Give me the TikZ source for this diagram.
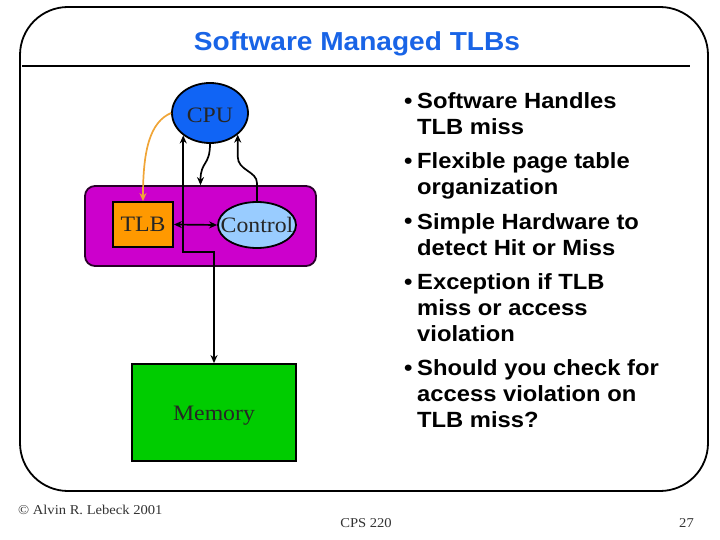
\documentclass[tikz,border=0pt]{standalone}
\usepackage{fontspec}
\setmainfont{Liberation Serif}[FakeStretch=1.08]
\newfontfamily\slidesans{Liberation Sans}[FakeStretch=1.08]
\usetikzlibrary{shapes.geometric,arrows.meta,calc}
\definecolor{titleblue}{RGB}{25,100,230}
\definecolor{cpublue}{RGB}{16,100,245}
\definecolor{procpurple}{RGB}{204,0,204}
\definecolor{tlborange}{RGB}{255,153,0}
\definecolor{ctrlblue}{RGB}{153,204,255}
\definecolor{memgreen}{RGB}{0,204,0}
\definecolor{arroworange}{RGB}{240,165,55}
\tikzset{
  box/.style={draw=black, line width=1.8pt, inner sep=0pt},
  dtext/.style={font=\fontsize{22}{26}\selectfont, text=black!85},
  conn/.style={draw=black, line width=1.7pt, -{Stealth[length=8pt,width=7pt]}},
  dconn/.style={draw=black, line width=1.7pt, {Stealth[length=8pt,width=7pt]}-{Stealth[length=8pt,width=7pt]}},
  bullettext/.style={anchor=base west, align=left, inner sep=0pt, font=\slidesans\bfseries\fontsize{22}{26}\selectfont},
  bulletdot/.style={anchor=base west, inner sep=0pt, font=\slidesans\bfseries\fontsize{22}{26}\selectfont},
  foot/.style={inner sep=0pt, font=\fontsize{13.5}{16}\selectfont, text=black!80}
}
\begin{document}
\begin{tikzpicture}[x=1pt,y=-1pt]
\useasboundingbox (0,0) rectangle (720,540);
% frame
\draw[line width=1.8pt, rounded corners=48pt] (20,7) rectangle (708,491);
% title
\node[anchor=base, inner sep=0pt, text=titleblue, font=\slidesans\bfseries\fontsize{26}{30}\selectfont] (title) at (357,51) {Software Managed TLBs};
\draw[line width=1.5pt] (22,66) -- (690,66);
% diagram
\node[box, fill=procpurple, draw=black!80!procpurple, rounded corners=10pt, minimum width=231pt, minimum height=80pt] (proc) at (200.5,226) {};
\node[box, fill=cpublue, ellipse, minimum width=76pt, minimum height=60pt, label={[dtext, yshift=-2pt]center:CPU}] (cpu) at (210,113) {};
\node[box, fill=tlborange, minimum width=60pt, minimum height=45pt, label={[dtext]center:TLB}] (tlb) at (143,224.5) {};
\node[box, fill=ctrlblue, ellipse, minimum width=78pt, minimum height=46pt, label={[dtext]center:Control}] (ctrl) at (257,225) {};
\node[box, fill=memgreen, minimum width=164pt, minimum height=97pt, label={[dtext, yshift=-3pt]center:Memory}] (mem) at (214,412.5) {};
% connectors
\draw[conn, draw=arroworange] (cpu.180) .. controls (150,122) and (143,150) .. (tlb.north);
\draw[conn] (cpu.south) .. controls +(0,22) and +(0,-24) .. (proc.north);
\draw[conn] (ctrl.north) -- ++(0,-18) .. controls +(0,-12) and ($(cpu.-38)+(0,36)$) .. ($(cpu.-38)+(0,22)$) -- (cpu.-38);
\draw[dconn] (mem.north) -- ++(0,-111) -| (cpu.220);
\draw[dconn] (tlb.east) -- (ctrl.west);
% bullets
\node[bulletdot] (d1) at (404,109) {•};
\node[bullettext] (t1) at (417,135) {Software Handles\\TLB miss};
\node[bulletdot] (d2) at (404,169) {•};
\node[bullettext] (t2) at (417,195) {Flexible page table\\organization};
\node[bulletdot] (d3) at (404,229) {•};
\node[bullettext] (t3) at (417,255) {Simple Hardware to\\detect Hit or Miss};
\node[bulletdot] (d4) at (404,289) {•};
\node[bullettext] (t4) at (417,341) {Exception if TLB\\miss or access\\violation};
\node[bulletdot] (d5) at (404,375) {•};
\node[bullettext] (t5) at (417,427) {Should you check for\\access violation on\\TLB miss?};
% footer
\node[foot, anchor=base west] (copy) at (18,514) {© Alvin R. Lebeck 2001};
\node[foot, anchor=base] (course) at (366,527) {CPS 220};
\node[foot, anchor=base east] (page) at (694,527) {27};
\end{tikzpicture}
\end{document}
